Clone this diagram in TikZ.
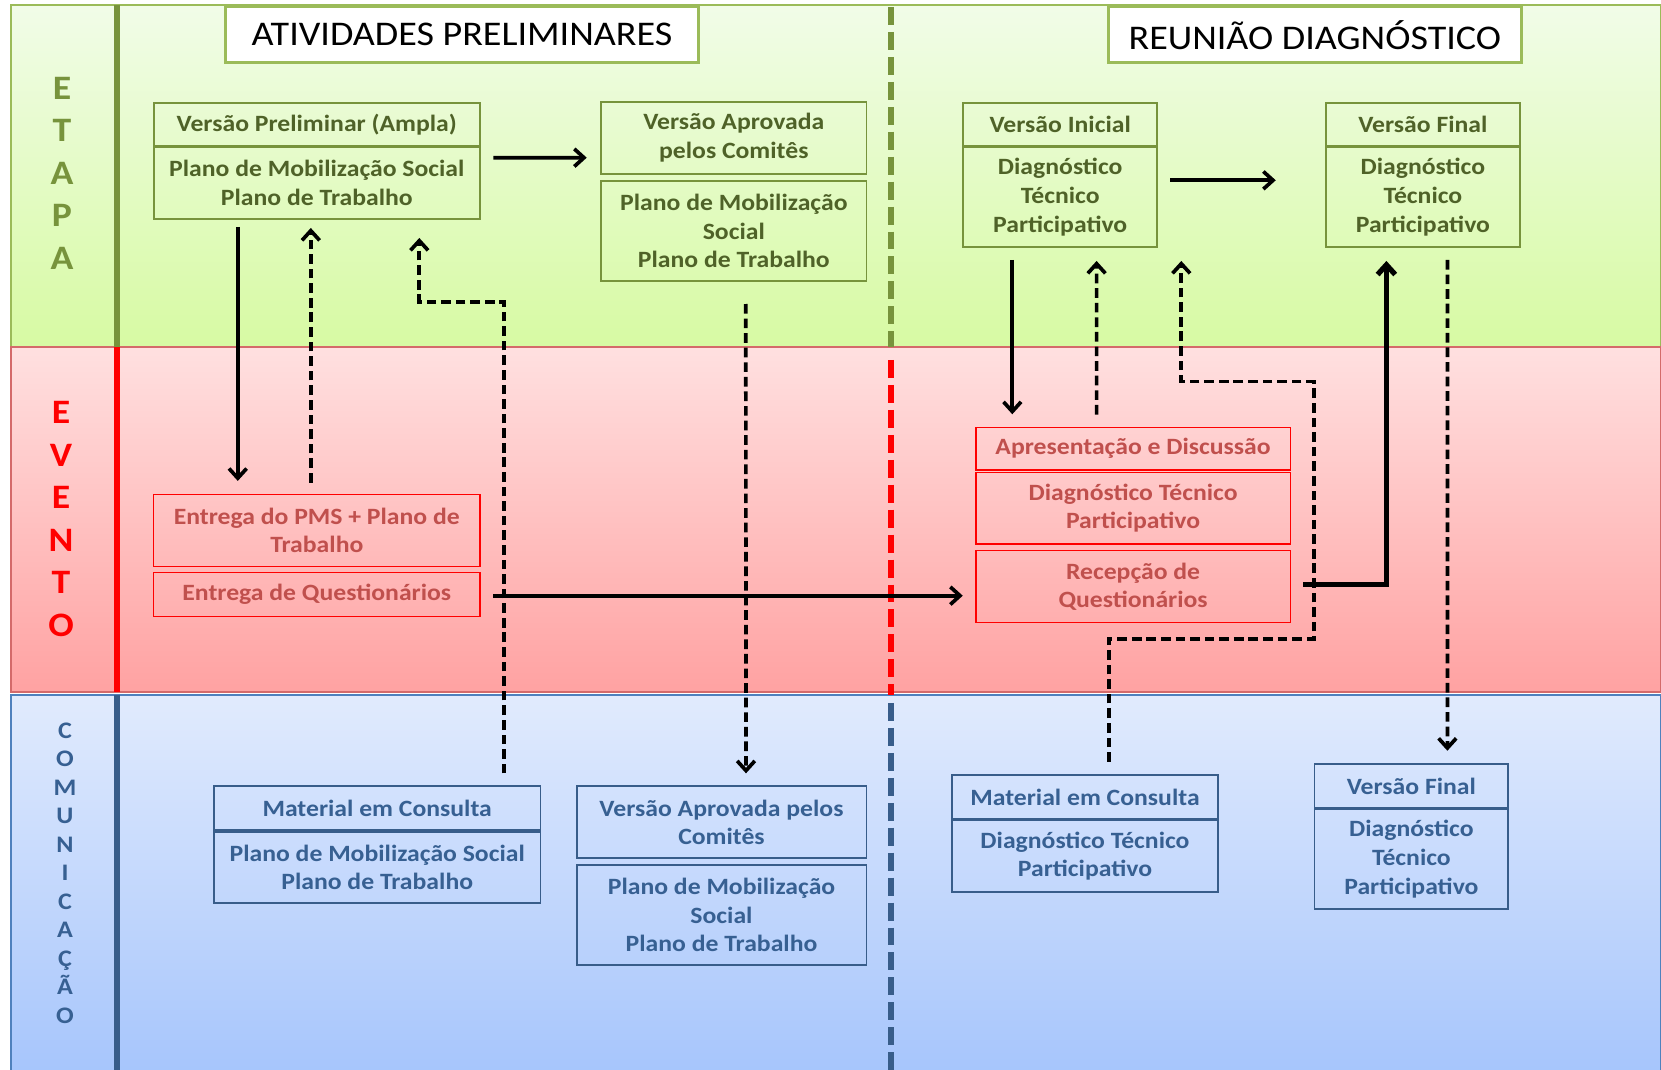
\documentclass[tikz,border=0pt]{standalone}
\usepackage{fontspec}
\setmainfont[FakeStretch=1.1]{Carlito}
\usepackage{xcolor}
\usepackage{tikz}
\usetikzlibrary{
  arrows.meta,
  positioning,
  calc
}
\definecolor{etapaline}{HTML}{77933C}
\definecolor{etapatext}{HTML}{4F6228}
\definecolor{etapaedge}{HTML}{9BBB59}
\definecolor{etapatop}{HTML}{F1FCE8}
\definecolor{etapabot}{HTML}{D7FAA3}
\definecolor{eventoline}{HTML}{FF0000}
\definecolor{eventotext}{HTML}{C0504D}
\definecolor{eventoedge}{HTML}{D46A6A}
\definecolor{eventotop}{HTML}{FFE0E0}
\definecolor{eventobot}{HTML}{FFA2A2}
\definecolor{comline}{HTML}{385D8A}
\definecolor{comtext}{HTML}{376092}
\definecolor{comedge}{HTML}{4F81BD}
\definecolor{comtop}{HTML}{E1EBFD}
\definecolor{combot}{HTML}{A6C5FC}
\newcommand{\boxfont}{\fontsize{13.3}{16.3}\selectfont\bfseries}
\newcommand{\stagefont}{\fontsize{19.7}{22}\selectfont}
\newcommand{\sidefont}{\fontsize{19.5}{24.2}\selectfont\bfseries}
\newcommand{\smallsidefont}{\fontsize{13.5}{16.2}\selectfont\bfseries}

\begin{document}
\begin{tikzpicture}[x=0.02cm,y=-0.02cm,every text node part/.style={align=center},
  gbox/.style={rectangle,draw=etapaline,line width=1.1pt,text=etapatext,font=\boxfont,inner sep=0pt},
  rbox/.style={rectangle,draw=eventoline,line width=0.9pt,text=eventotext,font=\boxfont,inner sep=0pt},
  bbox/.style={rectangle,draw=comline,line width=1.1pt,text=comtext,font=\boxfont,inner sep=0pt},
  stagebox/.style={rectangle,draw=etapaedge,line width=1.7pt,fill=white,font=\stagefont,inner sep=0pt},
  solidarrow/.style={line width=2.1pt,-{Straight Barb[length=5.5pt,width=10pt]}},
  dasharrow/.style={line width=2.1pt,dash pattern=on 5.5pt off 2.8pt,-{Straight Barb[length=5.5pt,width=10pt]}}]
  \useasboundingbox (0,0) rectangle (1661,1070);

  \shade[top color=etapatop,bottom color=etapabot,draw=etapaedge,line width=0.6pt] (11,5) rectangle (1661,347);
  \shade[top color=eventotop,bottom color=eventobot,draw=eventoedge,line width=1pt] (11,347) rectangle (1661,692);
  \shade[top color=comtop,bottom color=combot,draw=comedge,line width=0.6pt] (11,695) rectangle (1661,1075);
  \draw[etapaline,line width=3.7pt] (117,5) -- (117,347);
  \draw[eventoline,line width=3.7pt] (117,347) -- (117,692);
  \draw[comline,line width=3.7pt] (117,695) -- (117,1070);
  \draw[etapaline,line width=3.4pt,dash pattern=on 10.2pt off 4pt] (891,7) -- (891,347);
  \draw[eventoline,line width=3.4pt,dash pattern=on 10.2pt off 4pt] (891,360) -- (891,695);
  \draw[comline,line width=3.4pt,dash pattern=on 10.2pt off 4pt] (891,703) -- (891,1070);

  \node[text=etapaline,font=\sidefont] (e) at (62,173) {E\\T\\A\\P\\A};
  \node[text=eventoline,font=\sidefont] (v) at (61,519) {E\\V\\E\\N\\T\\O};
  \node[text=comtext,font=\smallsidefont] (c) at (65,873) {C\\O\\M\\U\\N\\I\\C\\A\\Ç\\Ã\\O};

  \node[stagebox,minimum width=9.48cm,minimum height=1.12cm] (t1) at (462,34.7) {ATIVIDADES PRELIMINARES};
  \node[stagebox,minimum width=8.27cm,minimum height=1.12cm] (t2) at (1314.8,34.7) {REUNIÃO DIAGNÓSTICO};

  \node[gbox,minimum width=6.53cm,minimum height=0.866cm] (1) at (316.8,124.5) {Versão Preliminar (Ampla)};
  \node[gbox,minimum width=6.53cm,minimum height=1.44cm] (2) at (316.8,183) {Plano de Mobilização Social\\Plano de Trabalho};
  \node[gbox,minimum width=5.31cm,minimum height=1.446cm] (3) at (733.8,137.9) {Versão Aprovada\\pelos Comitês};
  \node[gbox,minimum width=5.31cm,minimum height=2.006cm] (4) at (733.8,230.9) {Plano de Mobilização\\Social\\Plano de Trabalho};
  \node[gbox,minimum width=3.872cm,minimum height=0.866cm] (5) at (1060.2,124.5) {Versão Inicial};
  \node[gbox,minimum width=3.872cm,minimum height=2.0cm] (6) at (1060.2,197) {Diagnóstico\\Técnico\\Participativo};
  \node[gbox,minimum width=3.876cm,minimum height=0.866cm] (7) at (1422.9,124.5) {Versão Final};
  \node[gbox,minimum width=3.876cm,minimum height=2.0cm] (8) at (1422.9,197) {Diagnóstico\\Técnico\\Participativo};

  \node[rbox,minimum width=6.53cm,minimum height=1.448cm] (9) at (316.8,530.5) {Entrega do PMS + Plano de\\Trabalho};
  \node[rbox,minimum width=6.53cm,minimum height=0.88cm] (10) at (316.8,594.7) {Entrega de Questionários};
  \node[rbox,minimum width=6.296cm,minimum height=0.854cm] (11) at (1133.1,448.7) {Apresentação e Discussão};
  \node[rbox,minimum width=6.296cm,minimum height=1.434cm] (12) at (1133.1,508.2) {Diagnóstico Técnico\\Participativo};
  \node[rbox,minimum width=6.296cm,minimum height=1.44cm] (13) at (1133.1,586.7) {Recepção de\\Questionários};

  \node[bbox,minimum width=6.532cm,minimum height=0.88cm] (14) at (377.2,808.3) {Material em Consulta};
  \node[bbox,minimum width=6.532cm,minimum height=1.432cm] (15) at (377.2,867.5) {Plano de Mobilização Social\\Plano de Trabalho};
  \node[bbox,minimum width=5.8cm,minimum height=1.44cm] (16) at (721.5,822.3) {Versão Aprovada pelos\\Comitês};
  \node[bbox,minimum width=5.8cm,minimum height=2.012cm] (17) at (721.5,915) {Plano de Mobilização\\Social\\Plano de Trabalho};
  \node[bbox,minimum width=5.322cm,minimum height=0.886cm] (18) at (1085,797.2) {Material em Consulta};
  \node[bbox,minimum width=5.322cm,minimum height=1.434cm] (19) at (1085,856.2) {Diagnóstico Técnico\\Participativo};
  \node[bbox,minimum width=3.878cm,minimum height=0.892cm] (20) at (1411.4,786) {Versão Final};
  \node[bbox,minimum width=3.878cm,minimum height=2.006cm] (21) at (1411.4,859.2) {Diagnóstico\\Técnico\\Participativo};

  \draw[solidarrow] ($(2.east)+(12.3,-25.3)$) -- ($(3.west)+(-13.4,19.8)$);
  \draw[solidarrow] ($(6.east)+(12.2,-16.7)$) -- ($(8.west)+(-49.3,-16.7)$);
  \draw[solidarrow] ($(2.south)+(-79,7)$) -- ($(9.north)+(-79,-12.6)$);
  \draw[dasharrow] ($(9.north)+(-6,-11)$) -- ($(2.south)+(-6,8)$);
  \draw[dasharrow] ($(14.north)+(127,-12)$) -- ++(0,-471.6) -| ($(2.south)+(102.5,18)$);
  \draw[dasharrow] ($(4.south)+(12,22)$) -- ($(16.north)+(24.5,-12)$);
  \draw[solidarrow] ($(10.east)+(12.3,1)$) -- ($(13.west)+(-12.2,9)$);
  \draw[solidarrow] ($(6.south)+(-47.9,12)$) -- ($(11.north)+(-120.8,-12.3)$);
  \draw[dasharrow] ($(11.north)+(-36.5,-12)$) -- ($(6.south)+(36.4,13)$);
  \draw[dasharrow] ($(18.north)+(23.7,-12.3)$) -- ++(0,-122.7) -- ++(205.1,0) -- ++(0,-257.7) -| ($(6.south)+(121.1,13)$);
  \draw[solidarrow,line width=3pt] ($(13.east)+(12.2,-2.4)$) -| ($(8.south)+(-36.5,13)$);
  \draw[dasharrow] ($(8.south)+(24.5,12)$) -- ($(20.north)+(36,-12)$);

\end{tikzpicture}
\end{document}
